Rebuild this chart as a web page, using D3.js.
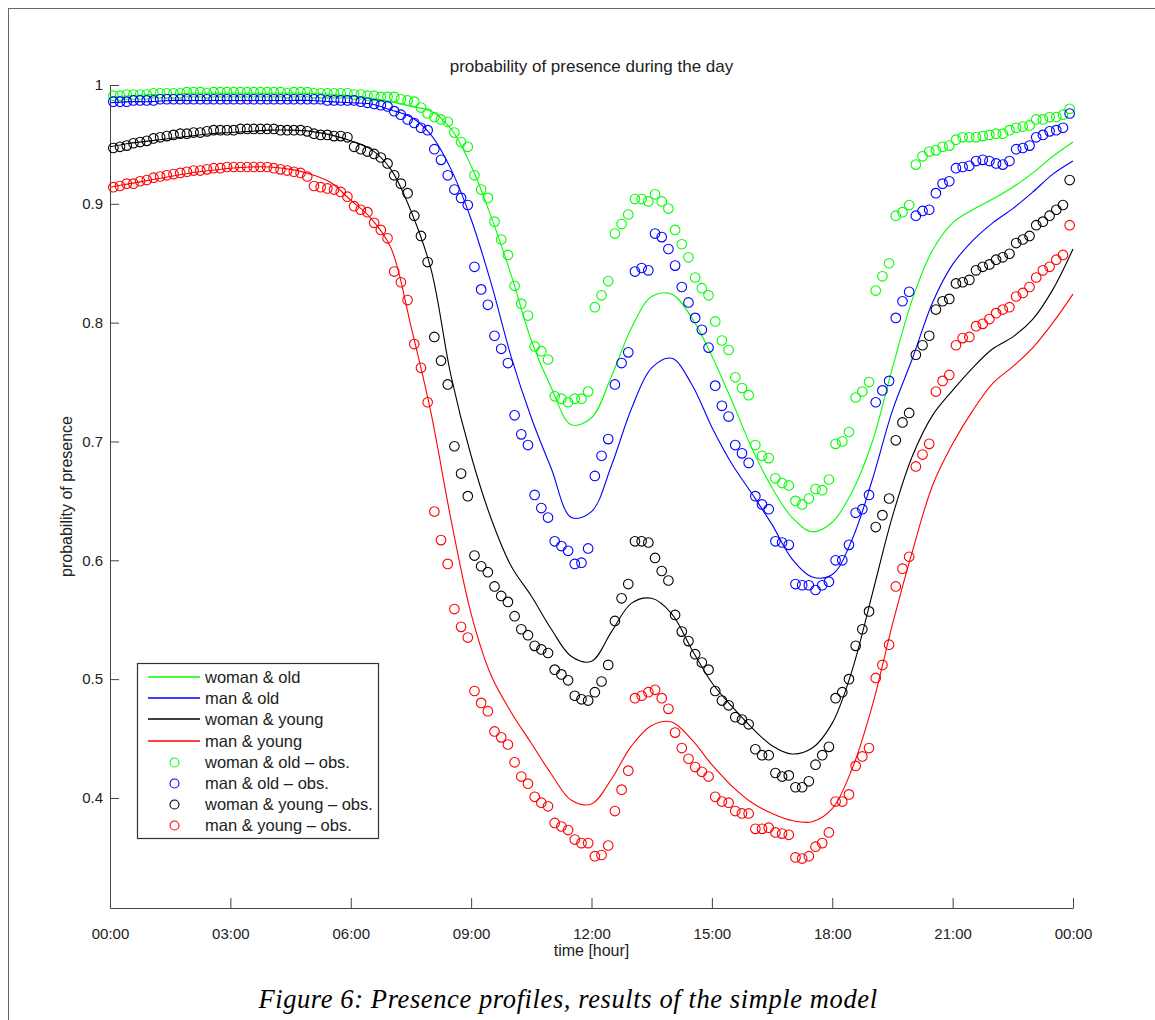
<!DOCTYPE html>
<html>
<head>
<meta charset="utf-8">
<script src="https://cdn.jsdelivr.net/npm/d3@7"></script>
<style>
  body { margin: 0; background: #fff; }
  svg { display: block; }
</style>
</head>
<body>
<svg></svg>
<script>
const margins = {t: 85, r: 82, b: 112, l: 110};
const SVGsize = {w: 1155, h: 1020};
const size = {
    w: SVGsize.w - margins.l - margins.r,
    h: SVGsize.h - margins.t - margins.b
};
const fontSans = '"Liberation Sans", Arial, Helvetica, sans-serif';
const axisColor = '#444';

// ---- data ----
const seriesNames = ['woman & old', 'man & old', 'woman & young', 'man & young'];
const seriesColors = ['#00ff00', '#0000ff', '#000000', '#ff0000'];

const xTickMinutes = [0, 180, 360, 540, 720, 900, 1080, 1260, 1440];
const xTickLabels = ['00:00', '03:00', '06:00', '09:00', '12:00', '15:00', '18:00', '21:00', '00:00'];
const yTicks = [0.4, 0.5, 0.6, 0.7, 0.8, 0.9, 1];
const yBottom = 0.3074;

// model curves, every half hour 00:00 .. 24:00
const modelHours = [0, 0.5, 1, 1.5, 2, 2.5, 3, 3.5, 4, 4.5, 5, 5.5, 6, 6.5, 7, 7.5, 8, 8.5, 9, 9.5,
    10, 10.5, 11, 11.5, 12, 12.5, 13, 13.5, 14, 14.5, 15, 15.5, 16, 16.5, 17, 17.5, 18, 18.5, 19, 19.5,
    20, 20.5, 21, 21.5, 22, 22.5, 23, 23.5, 24];
const womanOldModel = [0.990, 0.991, 0.992, 0.992, 0.993, 0.993, 0.993, 0.993, 0.993, 0.993, 0.993, 0.992,
    0.991, 0.989, 0.986, 0.982, 0.978, 0.963, 0.932, 0.889, 0.840, 0.785, 0.745, 0.714, 0.720, 0.755,
    0.796, 0.822, 0.824, 0.804, 0.772, 0.734, 0.694, 0.661, 0.636, 0.624, 0.632, 0.658, 0.700, 0.762,
    0.820, 0.861, 0.884, 0.895, 0.904, 0.914, 0.926, 0.940, 0.952];
const manOldModel = [0.985, 0.986, 0.986, 0.987, 0.987, 0.987, 0.987, 0.987, 0.987, 0.987, 0.987, 0.986,
    0.985, 0.984, 0.979, 0.973, 0.958, 0.929, 0.887, 0.833, 0.771, 0.720, 0.677, 0.636, 0.641, 0.680,
    0.728, 0.762, 0.770, 0.748, 0.712, 0.681, 0.656, 0.630, 0.601, 0.586, 0.588, 0.618, 0.668, 0.726,
    0.770, 0.817, 0.849, 0.869, 0.884, 0.896, 0.910, 0.925, 0.936];
const womanYoungModel = [0.948, 0.951, 0.953, 0.955, 0.957, 0.959, 0.960, 0.961, 0.962, 0.962, 0.961, 0.958,
    0.953, 0.946, 0.929, 0.894, 0.845, 0.755, 0.688, 0.635, 0.595, 0.570, 0.542, 0.519, 0.515, 0.540,
    0.564, 0.568, 0.555, 0.525, 0.497, 0.477, 0.459, 0.444, 0.437, 0.442, 0.463, 0.508, 0.572, 0.637,
    0.688, 0.722, 0.743, 0.762, 0.778, 0.788, 0.803, 0.828, 0.862];
const manYoungModel = [0.914, 0.917, 0.920, 0.923, 0.926, 0.928, 0.930, 0.931, 0.931, 0.929, 0.925, 0.918,
    0.903, 0.888, 0.863, 0.797, 0.724, 0.634, 0.555, 0.503, 0.472, 0.446, 0.420, 0.398, 0.395, 0.416,
    0.444, 0.461, 0.464, 0.449, 0.428, 0.410, 0.396, 0.387, 0.381, 0.380, 0.391, 0.425, 0.478, 0.546,
    0.608, 0.663, 0.698, 0.726, 0.749, 0.763, 0.779, 0.800, 0.824];

// observations, every 10 minutes starting 00:05
const obsMinutes = d3.range(5, 1440, 10);
const womanOldObs = [
    0.991, 0.991, 0.992, 0.992, 0.992, 0.992, 0.993, 0.993, 0.993, 0.993, 0.993, 0.994,
    0.994, 0.994, 0.993, 0.994, 0.994, 0.994, 0.994, 0.994, 0.994, 0.994, 0.994, 0.994,
    0.994, 0.994, 0.993, 0.994, 0.994, 0.994, 0.993, 0.993, 0.993, 0.993, 0.993, 0.993,
    0.992, 0.992, 0.991, 0.991, 0.990, 0.990, 0.990, 0.988, 0.987, 0.986, 0.981, 0.976,
    0.973, 0.971, 0.969, 0.960, 0.952, 0.948, 0.924, 0.912, 0.905, 0.885, 0.870, 0.857,
    0.831, 0.816, 0.806, 0.780, 0.776, 0.769, 0.738, 0.736, 0.733, 0.736, 0.736, 0.742,
    0.813, 0.823, 0.835, 0.875, 0.883, 0.891, 0.904, 0.904, 0.902, 0.908, 0.902, 0.896,
    0.878, 0.866, 0.855, 0.838, 0.829, 0.823, 0.801, 0.785, 0.777, 0.754, 0.745, 0.739,
    0.697, 0.688, 0.686, 0.669, 0.665, 0.663, 0.650, 0.647, 0.652, 0.660, 0.659, 0.668,
    0.698, 0.700, 0.708, 0.737, 0.742, 0.750, 0.827, 0.839, 0.850, 0.890, 0.893, 0.899,
    0.933, 0.940, 0.944, 0.945, 0.948, 0.949, 0.954, 0.956, 0.956, 0.956, 0.957, 0.958,
    0.959, 0.959, 0.962, 0.964, 0.965, 0.966, 0.971, 0.971, 0.973, 0.973, 0.975, 0.980];
const manOldObs = [
    0.986, 0.986, 0.986, 0.987, 0.987, 0.987, 0.987, 0.988, 0.988, 0.988, 0.988, 0.988,
    0.988, 0.988, 0.988, 0.988, 0.988, 0.988, 0.988, 0.988, 0.988, 0.988, 0.988, 0.988,
    0.988, 0.988, 0.988, 0.988, 0.988, 0.988, 0.988, 0.988, 0.987, 0.987, 0.987, 0.987,
    0.987, 0.986, 0.985, 0.984, 0.983, 0.982, 0.978, 0.975, 0.971, 0.968, 0.964, 0.962,
    0.946, 0.937, 0.924, 0.912, 0.905, 0.899, 0.847, 0.828, 0.815, 0.789, 0.778, 0.766,
    0.722, 0.706, 0.697, 0.655, 0.644, 0.636, 0.616, 0.612, 0.608, 0.597, 0.598, 0.610,
    0.671, 0.688, 0.702, 0.748, 0.766, 0.775, 0.843, 0.846, 0.844, 0.875, 0.872, 0.862,
    0.848, 0.830, 0.817, 0.804, 0.794, 0.779, 0.747, 0.730, 0.721, 0.697, 0.690, 0.682,
    0.654, 0.647, 0.643, 0.616, 0.615, 0.613, 0.580, 0.579, 0.579, 0.575, 0.579, 0.582,
    0.600, 0.600, 0.613, 0.640, 0.643, 0.655, 0.733, 0.743, 0.751, 0.804, 0.818, 0.826,
    0.890, 0.894, 0.895, 0.909, 0.917, 0.919, 0.930, 0.931, 0.932, 0.936, 0.937, 0.936,
    0.934, 0.933, 0.936, 0.946, 0.947, 0.949, 0.956, 0.958, 0.961, 0.962, 0.964, 0.976];
const womanYoungObs = [
    0.947, 0.948, 0.949, 0.951, 0.952, 0.953, 0.955, 0.956, 0.957, 0.958, 0.959, 0.959,
    0.960, 0.960, 0.961, 0.962, 0.962, 0.962, 0.962, 0.963, 0.963, 0.963, 0.963, 0.963,
    0.963, 0.962, 0.962, 0.962, 0.962, 0.961, 0.959, 0.958, 0.958, 0.957, 0.957, 0.956,
    0.948, 0.946, 0.944, 0.942, 0.939, 0.934, 0.924, 0.917, 0.909, 0.890, 0.873, 0.851,
    0.788, 0.768, 0.748, 0.696, 0.673, 0.654, 0.604, 0.595, 0.590, 0.578, 0.570, 0.565,
    0.553, 0.542, 0.537, 0.528, 0.525, 0.522, 0.508, 0.504, 0.499, 0.486, 0.483, 0.482,
    0.489, 0.498, 0.512, 0.549, 0.568, 0.580, 0.616, 0.616, 0.615, 0.602, 0.591, 0.583,
    0.554, 0.540, 0.532, 0.521, 0.514, 0.508, 0.490, 0.482, 0.478, 0.468, 0.466, 0.462,
    0.441, 0.436, 0.436, 0.421, 0.418, 0.419, 0.409, 0.409, 0.414, 0.428, 0.436, 0.443,
    0.484, 0.489, 0.500, 0.528, 0.542, 0.557, 0.628, 0.638, 0.652, 0.701, 0.716, 0.724,
    0.773, 0.781, 0.789, 0.811, 0.818, 0.820, 0.833, 0.834, 0.836, 0.844, 0.847, 0.849,
    0.853, 0.855, 0.858, 0.867, 0.870, 0.873, 0.882, 0.885, 0.890, 0.895, 0.899, 0.920];
const manYoungObs = [
    0.914, 0.915, 0.917, 0.917, 0.919, 0.920, 0.922, 0.923, 0.924, 0.925, 0.926, 0.927,
    0.928, 0.928, 0.929, 0.930, 0.930, 0.931, 0.931, 0.931, 0.931, 0.931, 0.931, 0.931,
    0.930, 0.929, 0.928, 0.927, 0.926, 0.923, 0.915, 0.914, 0.913, 0.912, 0.910, 0.906,
    0.898, 0.895, 0.893, 0.884, 0.878, 0.871, 0.843, 0.834, 0.819, 0.782, 0.762, 0.733,
    0.641, 0.617, 0.597, 0.559, 0.544, 0.535, 0.490, 0.480, 0.473, 0.456, 0.451, 0.445,
    0.430, 0.418, 0.412, 0.401, 0.396, 0.393, 0.379, 0.376, 0.373, 0.365, 0.362, 0.362,
    0.351, 0.352, 0.360, 0.389, 0.407, 0.423, 0.484, 0.486, 0.489, 0.491, 0.484, 0.475,
    0.455, 0.442, 0.433, 0.426, 0.422, 0.418, 0.401, 0.397, 0.396, 0.389, 0.387, 0.387,
    0.374, 0.374, 0.375, 0.371, 0.370, 0.369, 0.350, 0.349, 0.351, 0.359, 0.362, 0.371,
    0.397, 0.397, 0.403, 0.427, 0.435, 0.442, 0.501, 0.512, 0.529, 0.578, 0.593, 0.603,
    0.679, 0.689, 0.698, 0.742, 0.751, 0.756, 0.781, 0.787, 0.788, 0.797, 0.799, 0.803,
    0.808, 0.811, 0.813, 0.822, 0.825, 0.830, 0.838, 0.844, 0.847, 0.853, 0.857, 0.882];

const models = [womanOldModel, manOldModel, womanYoungModel, manYoungModel];
const observations = [womanOldObs, manOldObs, womanYoungObs, manYoungObs];

// ---- drawing ----
const svg = d3.select('svg')
    .attr('width', SVGsize.w)
    .attr('height', SVGsize.h);

// page frame of the figure
svg.append('rect')
    .attr('x', 8.5)
    .attr('y', 8.5)
    .attr('width', 1200)
    .attr('height', 1100)
    .attr('fill', 'none')
    .attr('stroke', '#666')
    .attr('stroke-width', 1);

const containerG = svg.append('g')
    .attr('transform', `translate(${margins.l}, ${margins.t})`);

const scaleX = d3.scaleLinear()
    .domain([0, 1440])
    .range([0, size.w]);

const scaleY = d3.scaleLinear()
    .domain([yBottom, 1])
    .range([size.h, 0]);

let axisX = d3.axisBottom(scaleX)
    .tickValues(xTickMinutes)
    .tickFormat(d => xTickLabels[xTickMinutes.indexOf(d)])
    .tickSizeInner(-10)
    .tickSizeOuter(0)
    .tickPadding(20);
let axisXG = containerG.append('g')
    .classed('axis-x', true)
    .attr('transform', `translate(0, ${size.h})`)
    .call(axisX)
    .attr('font-family', fontSans)
    .attr('font-size', 15);

let axisY = d3.axisLeft(scaleY)
    .tickValues(yTicks)
    .tickFormat(d => d === 1 ? '1' : d.toFixed(1))
    .tickSizeInner(-9)
    .tickSizeOuter(0)
    .tickPadding(7);
let axisYG = containerG.append('g')
    .classed('axis-y', true)
    .call(axisY)
    .attr('font-family', fontSans)
    .attr('font-size', 15);

containerG.selectAll('.domain, .tick line').attr('stroke', axisColor);
containerG.selectAll('.tick text').attr('fill', '#222');

// titles
containerG.append('text')
    .attr('x', size.w / 2)
    .attr('y', -13)
    .attr('text-anchor', 'middle')
    .attr('font-family', fontSans)
    .attr('font-size', 17)
    .attr('fill', '#222')
    .text('probability of presence during the day');

containerG.append('text')
    .attr('transform', `translate(-38, ${size.h / 2}) rotate(-90)`)
    .attr('text-anchor', 'middle')
    .attr('font-family', fontSans)
    .attr('font-size', 16)
    .attr('fill', '#222')
    .text('probability of presence');

containerG.append('text')
    .attr('x', size.w / 2)
    .attr('y', size.h + 48)
    .attr('text-anchor', 'middle')
    .attr('font-family', fontSans)
    .attr('font-size', 16)
    .attr('fill', '#222')
    .text('time [hour]');

// model lines
const line = d3.line()
    .x(d => scaleX(d[0] * 60))
    .y(d => scaleY(d[1]))
    .curve(d3.curveCatmullRom.alpha(0.5));

models.forEach((vals, k) => {
    containerG.append('path')
        .datum(modelHours.map((h, i) => [h, vals[i]]))
        .attr('d', line)
        .attr('fill', 'none')
        .attr('stroke', seriesColors[k])
        .attr('stroke-width', 1.1);
});

// observed points
observations.forEach((vals, k) => {
    containerG.append('g')
        .selectAll('circle')
        .data(vals)
        .enter()
        .append('circle')
        .attr('cx', (d, i) => scaleX(obsMinutes[i]))
        .attr('cy', d => scaleY(d))
        .attr('r', 4.8)
        .attr('fill', 'none')
        .attr('stroke', seriesColors[k])
        .attr('stroke-width', 1.1);
});

// legend
const legendG = svg.append('g')
    .attr('transform', 'translate(137, 663)');
legendG.append('rect')
    .attr('x', 0.5)
    .attr('y', 0.5)
    .attr('width', 241)
    .attr('height', 175)
    .attr('fill', '#fff')
    .attr('stroke', '#333')
    .attr('stroke-width', 1.2);

const legendRows = seriesNames.map((n, k) => ({label: n, color: seriesColors[k], obs: false}))
    .concat(seriesNames.map((n, k) => ({label: n + ' \u2013 obs.', color: seriesColors[k], obs: true})));

const rowG = legendG.selectAll('g.row')
    .data(legendRows)
    .enter()
    .append('g')
    .attr('class', 'row')
    .attr('transform', (d, i) => `translate(0, ${Math.round(14 + i * 21.2)})`);

rowG.filter(d => !d.obs).append('line')
    .attr('x1', 11).attr('x2', 63)
    .attr('y1', 0).attr('y2', 0)
    .attr('stroke', d => d.color)
    .attr('stroke-width', 1.6);

rowG.filter(d => d.obs).append('circle')
    .attr('cx', 37.5).attr('cy', 0.5)
    .attr('r', 4.5)
    .attr('fill', 'none')
    .attr('stroke', d => d.color)
    .attr('stroke-width', 1.1);

rowG.append('text')
    .attr('x', 68)
    .attr('y', 6)
    .attr('font-family', fontSans)
    .attr('font-size', 16.5)
    .attr('fill', '#222')
    .text(d => d.label);

// caption
svg.append('text')
    .attr('x', 568)
    .attr('y', 1008)
    .attr('text-anchor', 'middle')
    .attr('font-family', '"Liberation Serif", "DejaVu Serif", serif')
    .attr('font-style', 'italic')
    .attr('font-size', 26.5)
    .attr('letter-spacing', 0.6)
    .attr('fill', '#000')
    .text('Figure 6: Presence profiles, results of the simple model');
</script>
</body>
</html>
